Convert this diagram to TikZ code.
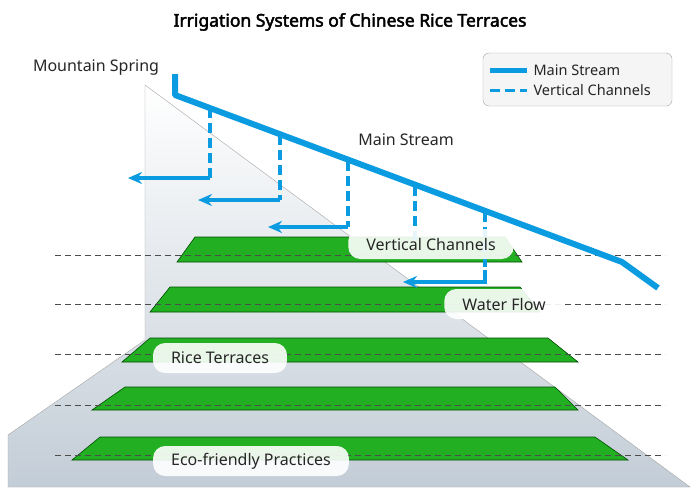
\documentclass[tikz,border=0pt]{standalone}
\usepackage{fontspec}
\setmainfont{Noto Sans}
\newfontfamily\titlefont{Noto Sans}[FakeBold=2.5]
\usetikzlibrary{arrows.meta}
\definecolor{stream}{HTML}{0A9BE0}
\definecolor{terr}{HTML}{22B022}
\begin{document}
\begin{tikzpicture}[x=1pt,y=-1pt,
  terrace/.style={fill=terr,draw=green!30!black,line width=0.6pt},
  grid/.style={draw=gray!60!black,line width=0.9pt,dash pattern=on 6pt off 4pt},
  main/.style={draw=stream,line width=6pt},
  chan/.style={draw=stream,line width=3.2pt,dash pattern=on 10pt off 5pt},
  flow/.style={draw=stream,line width=3.2pt,-{Stealth[length=14pt,width=12pt]}},
  lbl/.style={font=\fontsize{16}{19}\selectfont,text=black!85},
  box/.style={lbl,fill=white,fill opacity=0.9,text opacity=1,rounded corners=12pt,inner xsep=18pt,minimum height=30pt}]
\useasboundingbox (0,0) rectangle (700,496);
\fill[white] (0,0) rectangle (700,496);
% mountain
\shade[top color=white,bottom color={rgb,255:red,195;green,205;blue,215},draw=gray!70]
  (145,85) -- (690,487) -- (8,487) -- (8,435) -- (145,340) -- cycle;
% terraces
\path[terrace] (195,237) -- (505,237) -- (522,262) -- (177,262) -- cycle;
\path[terrace] (170,287) -- (520,287) -- (540,312) -- (150,312) -- cycle;
\path[terrace] (150,338) -- (548,338) -- (578,362) -- (122,362) -- cycle;
\path[terrace] (125,387) -- (555,387) -- (578,410) -- (92,410) -- cycle;
\path[terrace] (100,437) -- (595,437) -- (628,460) -- (72,460) -- cycle;
% grid lines
\foreach \y in {255,304,354,405,455} \draw[grid] (55,\y) -- (665,\y);
% channels
\coordinate (c1) at (210,108); \coordinate (e1) at (210,178); \coordinate (a1) at (128,178);
\coordinate (c2) at (280,135); \coordinate (e2) at (280,200); \coordinate (a2) at (198,200);
\coordinate (c3) at (348,161); \coordinate (e3) at (348,227); \coordinate (a3) at (268,227);
\coordinate (c4) at (415,186); \coordinate (e4) at (415,240);
\coordinate (c5) at (485,212); \coordinate (e5) at (485,282); \coordinate (a5) at (403,282);
\draw[chan] (c1) -- (e1); \draw[flow] (e1) -- (a1);
\draw[chan] (c2) -- (e2); \draw[flow] (e2) -- (a2);
\draw[chan] (c3) -- (e3); \draw[flow] (e3) -- (a3);
\draw[chan] (c4) -- (e4);
\draw[chan] (c5) -- (485,270); \draw[flow] (485,270) -- (e5) -- (a5);
% main stream
\coordinate (s0) at (175,74); \coordinate (s1) at (175,95);
\coordinate (s2) at (622,262); \coordinate (s3) at (658,288);
\draw[main,line join=round] (s0) -- (s1) -- (s2) -- (s3);
% labels
\node[font=\titlefont\fontsize{17.5}{20}\selectfont] (title) at (350,22) {Irrigation Systems of Chinese Rice Terraces};
\node[lbl] (ms) at (96,68) {Mountain Spring};
\node[lbl] (mst) at (406,140) {Main Stream};
\node[box] (vc) at (431,244) {Vertical Channels};
\node[box] (wf) at (504,304) {Water Flow};
\node[box] (rt) at (220,358) {Rice Terraces};
\node[box] (eco) at (251,461) {Eco-friendly Practices};
% legend
\node[draw=gray!70,fill=gray!8,rounded corners=6pt,minimum width=189pt,minimum height=53pt] (leg) at (577.5,79.5) {};
\draw[draw=stream,line width=5pt] (490,70) -- (527,70);
\draw[draw=stream,line width=3pt,dash pattern=on 10pt off 5pt] (490,90) -- (527,90);
\node[lbl,anchor=west,font=\fontsize{14.5}{17}\selectfont] (l1) at (530,70) {Main Stream};
\node[lbl,anchor=west,font=\fontsize{14.5}{17}\selectfont] (l2) at (530,90) {Vertical Channels};
\end{tikzpicture}
\end{document}
